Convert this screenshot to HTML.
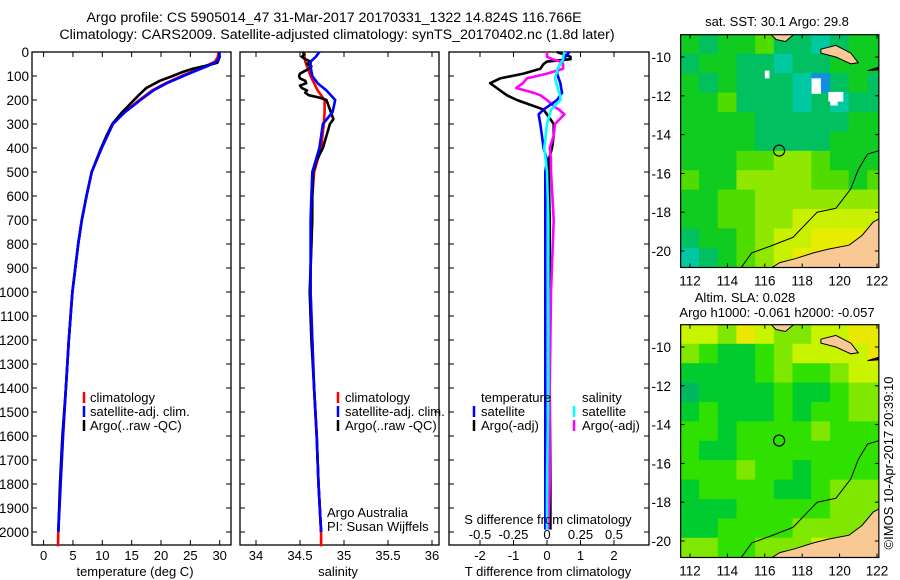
<!DOCTYPE html>
<html><head><meta charset="utf-8"><style>
html,body{margin:0;padding:0;background:#fff;width:900px;height:580px;overflow:hidden}
svg{display:block;font-family:"Liberation Sans",Arial,sans-serif;font-size:12.5px}
</style></head><body>
<svg id="fig" width="900" height="580" viewBox="0 0 900 580" xmlns="http://www.w3.org/2000/svg">
<text x="334" y="22" text-anchor="middle" font-size="14.2">Argo profile: CS 5905014_47 31-Mar-2017 20170331_1322 14.824S 116.766E</text>
<text x="337" y="39" text-anchor="middle" font-size="14.2">Climatology: CARS2009. Satellite-adjusted climatology: synTS_20170402.nc (1.8d later)</text>
<g id="g"></g>
</svg>
<script>
// ---------- profile data ----------
const climDepth=[0,20,40,60,80,100,130,160,200,250,300,400,500,600,700,800,900,1000,1200,1400,1600,1800,2000,2060];
const climT=[29.8,29.7,29.2,27.5,25.5,23.5,20.8,18.5,16.3,13.8,11.8,9.9,8.2,7.3,6.5,5.9,5.4,4.9,4.3,3.8,3.3,2.9,2.5,2.45];
const satDepth=[0,20,40,60,80,100,130,160,200,250,300,400,500,600,700,800,900,1000,1200,1400,1600,1800,2000];
const satT=[30.0,29.9,29.5,27.8,25.8,23.8,21.0,18.7,16.5,13.9,11.8,9.9,8.2,7.3,6.5,5.9,5.4,4.9,4.3,3.8,3.3,2.9,2.5];
const argoTDepth=[0,20,45,55,70,85,100,120,150,180,210,250,300,350,400,500,600,700,800,900,1000,1200,1400,1600,1800,2000];
const argoT=[29.9,30.0,29.6,28.0,25.4,23.5,22.0,19.8,17.5,16.2,15.0,13.4,11.7,10.7,9.8,8.2,7.3,6.5,5.9,5.4,4.9,4.3,3.8,3.2,2.8,2.5];
const climS=[34.55,34.55,34.56,34.58,34.6,34.62,34.66,34.7,34.78,34.78,34.77,34.74,34.66,34.64,34.63,34.63,34.62,34.62,34.64,34.66,34.69,34.71,34.74,34.74];
const satS=[34.72,34.68,34.62,34.62,34.63,34.64,34.7,34.8,34.9,34.87,34.76,34.72,34.64,34.63,34.62,34.62,34.62,34.62,34.64,34.66,34.69,34.71,34.74];
const argoSDepth=[0,10,20,30,40,50,60,70,80,90,100,110,120,130,140,150,160,170,180,190,200,220,260,280,300,350,400,450,500,600,700,800,900,1000,1200,1400,1600,1800,2000];
const argoS=[34.53,34.55,34.52,34.56,34.62,34.58,34.63,34.6,34.55,34.5,34.49,34.5,34.56,34.57,34.5,34.52,34.58,34.56,34.6,34.72,34.8,34.82,34.86,34.88,34.84,34.8,34.76,34.69,34.65,34.64,34.64,34.63,34.62,34.61,34.63,34.66,34.69,34.71,34.74];
const diffDepth=[0,20,30,40,50,70,90,110,130,150,170,180,200,210,230,240,260,300,350,400,450,500,700,1000,1400,1800,1990];
const dTsat=[0.67,0.55,0.5,0.45,0.4,0.32,0.3,0.35,0.4,0.42,0.45,0.4,0.3,0.2,0.0,-0.1,-0.25,-0.2,-0.15,-0.1,0.0,-0.05,-0.05,-0.05,-0.05,-0.05,-0.05];
const dTargo=[0.3,0.7,0.7,0.0,-0.1,-0.2,-0.7,-1.4,-1.7,-1.5,-1.3,-1.2,-0.9,-0.7,-0.3,-0.1,0.0,0.2,0.2,0.15,0.05,0.05,0.08,0.08,0.08,0.1,0.1];
const dSsat=[0.13,0.12,0.12,0.11,0.1,0.08,0.07,0.06,0.07,0.08,0.09,0.1,0.1,0.08,0.05,0.03,0.02,0.0,-0.01,-0.02,-0.01,0.0,0.01,0.01,0.01,0.0,0.0];
const dSargo=[0.0,0.0,0.04,0.1,0.12,0.12,0.0,-0.15,-0.18,-0.23,-0.1,-0.05,0.0,0.02,0.06,0.09,0.13,0.06,0.05,0.02,0.03,0.03,0.05,0.03,0.02,0.02,0.01];
const depthTicks=[0,100,200,300,400,500,600,700,800,900,1000,1100,1200,1300,1400,1500,1600,1700,1800,1900,2000];
const tempTicks=[0,5,10,15,20,25,30];
const salTicks=[34,34.5,35,35.5,36];
const tdTicks=[-2,-1,0,1,2];
const sdTicks=[-0.5,-0.25,0,0.25,0.5];
const sdTickLabels=["-0.5","-0.25","0","0.25","0.5"];
// ---------- map data (coarse grids, row = 1 deg lat from -9 southward, col = 1 deg lon from 111.5) ----------
const sstGrid=[
[3,2,3,3,4,2,2,1,2,3,3],[2,3,3,2,2,1,2,2,3,3,3],[3,2,3,2,2,2,1,0,2,3,2],[3,3,4,2,2,2,1,2,1,2,2],
[3,3,3,3,2,2,2,2,2,3,3],[3,3,3,3,2,2,2,2,3,3,3],[3,3,3,4,4,5,5,4,3,3,3],[4,3,3,5,5,5,5,4,4,3,4],
[3,3,4,4,5,5,5,5,5,5,5],[3,3,4,4,5,5,6,6,6,6,6],[2,3,3,4,5,6,6,7,7,7,7],[1,2,3,4,5,6,7,7,8,7,7]];
const slaGrid=[
[6,6,5,7,6,5,5,6,6,7,7],[5,4,3,3,4,5,6,6,6,6,7],[3,3,3,3,4,5,4,4,5,6,6],[2,3,3,3,3,4,3,3,4,5,5],
[3,4,3,3,3,4,3,4,4,5,5],[4,4,3,4,4,4,4,5,4,4,4],[4,3,3,4,4,4,4,4,4,4,4],[4,4,4,5,4,4,3,4,4,4,4],
[3,4,4,4,4,3,3,4,5,5,5],[3,3,3,4,4,4,4,4,5,5,5],[3,3,4,4,4,4,5,5,5,5,5],[5,5,4,4,5,5,5,6,6,6,6]];
const sstColors=["#1090e0","#00c8a0","#00c060","#10cc20","#50dc00","#90e800","#c8f000","#e8ec00","#f0d800"];
const slaColors=["#00a080","#00a880","#00b860","#00cc30","#30e000","#80e800","#c8f400","#e8e800"];
const lonTicks=[112,114,116,118,120,122];
const latTicks=[-10,-12,-14,-16,-18,-20];
const argoLon=116.766, argoLat=-14.824;

const NS="http://www.w3.org/2000/svg";
const G=document.getElementById('g');
function el(tag,attrs,parent){const e=document.createElementNS(NS,tag);for(const k in attrs)e.setAttribute(k,attrs[k]);(parent||G).appendChild(e);return e;}
function txt(x,y,s,anchor,parent){const t=el('text',{x:x,y:y,'text-anchor':anchor||'start'},parent);t.textContent=s;return t;}

const Y0=52,YB=545,yD=d=>Y0+d*0.24;
const panels=[{x0:32,x1:231,name:'temperature-panel'},{x0:240,x1:439,name:'salinity-panel'},{x0:449,x1:649,name:'difference-panel'}];
const xTemp=v=>43.6+v*5.87;
const xSal=v=>256+(v-34)*88;
const xTd=v=>547+v*33.5;
const xSd=v=>547+v*134;

panels.forEach(p=>{
  const r=el('rect',{x:p.x0,y:Y0,width:p.x1-p.x0,height:YB-Y0,fill:'none',stroke:'#000','stroke-width':1.3});
  
  
  depthTicks.forEach(d=>{
    el('line',{x1:p.x0,x2:p.x0+5,y1:yD(d),y2:yD(d),stroke:'#000'});
    el('line',{x1:p.x1,x2:p.x1-5,y1:yD(d),y2:yD(d),stroke:'#000'});
  });
});
depthTicks.forEach(d=>{const t=txt(29,yD(d)+5,String(d),'end');
  t.setAttribute('font-size','13.5');
  
  });

function xticks(vals,labels,fx,top,bottom,ly){
  vals.forEach((v,i)=>{const x=fx(v);
    if(top)el('line',{x1:x,x2:x,y1:Y0,y2:Y0+5,stroke:'#000'});
    if(bottom)el('line',{x1:x,x2:x,y1:YB,y2:YB-5,stroke:'#000'});
    if(ly){const t=txt(x,ly,labels[i],'middle');
      t.setAttribute('font-size','13');
      
      }
  });
}
xticks(tempTicks,tempTicks.map(String),xTemp,true,true,560);
xticks(salTicks,salTicks.map(String),xSal,true,true,560);
xticks(tdTicks,tdTicks.map(String),xTd,false,true,560);
xticks(sdTicks,sdTickLabels,xSd,true,true,null);
sdTicks.forEach((v,i)=>{const t=txt(xSd(v),539,sdTickLabels[i],'middle');
  t.setAttribute('font-size','13');
  
  });

function line(ds,vs,fx,color,name,w){
  const pts=ds.map((d,i)=>fx(vs[i]).toFixed(1)+','+yD(d).toFixed(1)).join(' ');
  const pl=el('polyline',{points:pts,fill:'none',stroke:color,'stroke-width':w||2.6,'stroke-linejoin':'round'});
  
  
}
line(climDepth,climT,xTemp,'#ff0000','climatology-temperature-line');
line(argoTDepth,argoT,xTemp,'#000000','argo-temperature-line');
line(satDepth,satT,xTemp,'#0000ff','satellite-temperature-line');
line(climDepth,climS,xSal,'#ff0000','climatology-salinity-line');
line(argoSDepth,argoS,xSal,'#000000','argo-salinity-line');
line(satDepth,satS,xSal,'#0000ff','satellite-salinity-line');
line(diffDepth,dTargo,xTd,'#000000','argo-t-diff-line');
line(diffDepth,dSargo,xSd,'#ff00ff','argo-s-diff-line');
line(diffDepth,dTsat,xTd,'#0000ff','satellite-t-diff-line');
line(diffDepth,dSsat,xSd,'#00ffff','satellite-s-diff-line');

function legend(mx,tx,y,color,label){
  el('line',{x1:mx,x2:mx,y1:y-10,y2:y+1,stroke:color,'stroke-width':2.5});
  const t=txt(tx,y,label);
  t.setAttribute('font-size','13');
  
  
}
[[84,90],[338,345]].forEach(([m,t])=>{
  legend(m,t,402,'#ff0000','climatology');
  legend(m,t,416,'#0000ff','satellite-adj. clim.');
  legend(m,t,430,'#000000','Argo(..raw -QC)');
});
txt(481,402,'temperature').setAttribute('font-size','13');
txt(582,402,'salinity').setAttribute('font-size','13');
legend(474,481,416,'#0000ff','satellite');legend(474,481,430,'#000000','Argo(-adj)');
legend(574,582,416,'#00ffff','satellite');legend(574,582,430,'#ff00ff','Argo(-adj)');
txt(327,517,'Argo Australia').setAttribute('font-size','13');
txt(327,531,'PI: Susan Wijffels').setAttribute('font-size','13');
txt(548,524,'S difference from climatology','middle').setAttribute('font-size','13');
txt(135,576,'temperature (deg C)','middle').setAttribute('font-size','13');
txt(338,576,'salinity','middle').setAttribute('font-size','13');
txt(548,576,'T difference from climatology','middle').setAttribute('font-size','13');

// ---------- maps ----------
function drawMap(off,grid,colors,name){
  const mg=el('g',{});
  
  
  const X=lon=>690+(lon-112)*18.7, Y=lat=>off+57+(-10-lat)*19.4;
  const cp='clip'+off;
  const defs=el('defs',{},mg);const c=el('clipPath',{id:cp},defs);
  el('rect',{x:X(111.5),y:Y(-8.85),width:X(122.1)-X(111.5),height:Y(-20.85)-Y(-8.85)},c);
  const inner=el('g',{'clip-path':'url(#'+cp+')'},mg);
  grid.forEach((row,r)=>row.forEach((v,ci)=>{
    el('rect',{x:X(111.5+ci)-0.3,y:Y(-8.85-r)-0.3,width:18.7+0.6,height:19.4+0.6,fill:colors[v]},inner);
  }));
  const poly=(pts,fill,stroke)=>el('polygon',{points:pts.map(p=>X(p[0]).toFixed(1)+','+Y(p[1]).toFixed(1)).join(' '),fill:fill,stroke:stroke,'stroke-width':1},inner);
  poly([[119.0,-9.6],[119.8,-9.4],[120.6,-9.8],[121.0,-10.3],[120.6,-10.35],[119.8,-10.0],[119.0,-9.8]],'#f9c995','#000');
  poly([[116.3,-8.8],[117.6,-8.8],[117.1,-9.2],[116.6,-9.1]],'#f9c995','#000');
  poly([[121.5,-10.7],[122.2,-10.5],[122.2,-10.65]],'#000','#000');
  poly([[122.2,-18.3],[121.8,-18.5],[121.2,-19.2],[120.5,-19.7],[119.4,-19.9],[118.6,-20.1],[117.6,-20.4],[116.8,-20.6],[116.3,-20.9],[122.2,-20.9]],'#f9c995','#000');
  el('polyline',{points:[[114.7,-20.9],[115.3,-20.1],[116.3,-19.75],[117.5,-19.3],[118.8,-18.0],[119.8,-17.8],[120.6,-16.8],[121.0,-15.8],[121.5,-15.0],[122.2,-14.8]].map(p=>X(p[0]).toFixed(1)+','+Y(p[1]).toFixed(1)).join(' '),fill:'none',stroke:'#000','stroke-width':1},inner);
  const m=el('circle',{cx:X(argoLon),cy:Y(argoLat),r:5.5,fill:'none',stroke:'#000','stroke-width':1.2},mg);
  
  
  el('rect',{x:X(111.5),y:Y(-8.85),width:X(122.1)-X(111.5),height:Y(-20.85)-Y(-8.85),fill:'none',stroke:'#000','stroke-width':1.2},mg);
  lonTicks.forEach(l=>{const x=X(l);
    el('line',{x1:x,x2:x,y1:Y(-8.85),y2:Y(-8.85)+4,stroke:'#000'},mg);
    el('line',{x1:x,x2:x,y1:Y(-20.85),y2:Y(-20.85)-4,stroke:'#000'},mg);
    const t=txt(x,Y(-20.85)+18,String(l),'middle',mg);t.setAttribute('font-size','13.5');});
  latTicks.forEach(l=>{const y=Y(l);
    el('line',{x1:X(111.5),x2:X(111.5)+4,y1:y,y2:y,stroke:'#000'},mg);
    el('line',{x1:X(122.1),x2:X(122.1)-4,y1:y,y2:y,stroke:'#000'},mg);
    const t=txt(671,y+5,String(l),'end',mg);t.setAttribute('font-size','13.5');});
  return {X,Y,inner};
}
const m1=drawMap(0,sstGrid,sstColors,'sst-map');
// missing-data patches
[[118.5,-11.1,0.5,0.8],[119.4,-11.8,0.8,0.5],[116.0,-10.7,0.25,0.4],[119.5,-12.2,0.4,0.3]].forEach(b=>{
  el('rect',{x:m1.X(b[0]),y:m1.Y(b[1]),width:b[2]*18.7,height:b[3]*19.4,fill:'#fff'},m1.inner);});
drawMap(290,slaGrid,slaColors,'sla-map');
txt(777,26,'sat. SST: 30.1 Argo: 29.8','middle').setAttribute('font-size','13');
txt(745,302,'Altim. SLA: 0.028','middle').setAttribute('font-size','13');
txt(777,317,'Argo h1000: -0.061 h2000: -0.057','middle').setAttribute('font-size','13');
const cr=txt(0,0,'©IMOS 10-Apr-2017 20:39:10','middle');
cr.setAttribute('font-size','13');
cr.setAttribute('transform','translate(893,463) rotate(-90)');


</script>
</body></html>
